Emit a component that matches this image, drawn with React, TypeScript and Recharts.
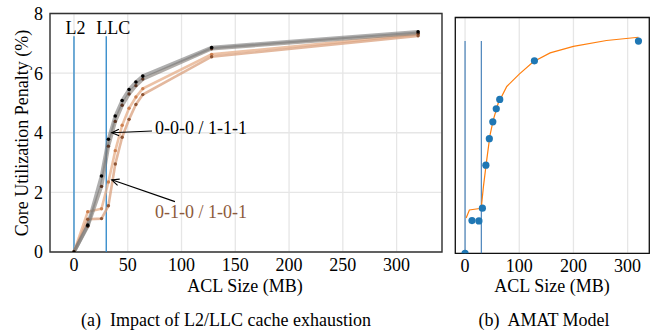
import React from 'react';
import { ComposedChart, Line, XAxis, YAxis, CartesianGrid, ReferenceLine, ReferenceArea } from 'recharts';

const FONT = '"Liberation Serif", "Times New Roman", serif';

// ACL sizes (MB) used by every measurement series
const aclSizes = [0, 12.8, 25.6, 32, 38.4, 44.8, 51.2, 57.6, 64, 128, 320];
// (a) core utilization penalty (%) for each core configuration
const pen000 = [0, 0.9, 2.55, 3.78, 4.56, 5.08, 5.45, 5.7, 5.9, 6.86, 7.39];
const pen111 = [0, 0.86, 2.2, 3.55, 4.38, 4.92, 5.3, 5.58, 5.8, 6.82, 7.34];
const pen010 = [0, 1.35, 1.45, 2.35, 3.4, 4.25, 4.82, 5.2, 5.48, 6.63, 7.3];
const pen101 = [0, 1.1, 1.12, 1.55, 2.95, 3.85, 4.45, 4.95, 5.28, 6.55, 7.25];
// (b) AMAT model: measured points and model curve
const amatMeasured = [0, 1.11, 1.1, 1.53, 2.99, 3.89, 4.46, 4.9, 5.22, 6.53, 7.2];
const fitSizes = [2, 8, 27, 30, 34, 40, 46, 52, 61, 77, 100, 126, 157, 200, 261, 320];
const fitValues = [1.2, 1.47, 1.52, 1.56, 2.28, 3.17, 4.0, 4.52, 5.08, 5.66, 6.08, 6.5, 6.8, 7.02, 7.22, 7.33];

const leftXTicks = [0, 50, 100, 150, 200, 250, 300];
const rightXTicks = [0, 100, 200, 300];
const yTicks = [0, 2, 4, 6, 8];
const leftXDomain = [-22.3, 342.2];
const rightXDomain = [-18, 340];
const yDomain = [0, 8];
const L2_MB = 0;
const LLC_MB = 30;
const cacheLineTopA = 7.24;
const cacheLineTopB = 7.2;

const leftRows = aclSizes.map((x, i) => ({ x, a: pen000[i], b: pen111[i], c: pen010[i], d: pen101[i] }));
const measRows = aclSizes.map((x, i) => ({ x, y: amatMeasured[i] }));
const fitRows = fitSizes.map((x, i) => ({ x, y: fitValues[i] }));

const CacheLine = (label: string, dx: number, color: string, w: number) => (p: any) => (
  <g>
    <line x1={p.x1} y1={p.y1} x2={p.x2} y2={p.y2} stroke={color} strokeWidth={w} />
    {label ? (
      <text x={p.x2 + dx} y={Math.min(p.y1, p.y2) - 2} textAnchor="middle" fontFamily={FONT} fontSize={18} fill="#000">
        {label}
      </text>
    ) : null}
  </g>
);

const Arrow = (label: string, color: string, tx: number, ty: number) => (p: any) => {
  const { x1, y1, x2, y2 } = p;
  const ang = Math.atan2(y2 - y1, x2 - x1);
  const L = 8;
  const s = 0.42;
  const ax = x2 - L * Math.cos(ang - s);
  const ay = y2 - L * Math.sin(ang - s);
  const bx = x2 - L * Math.cos(ang + s);
  const by = y2 - L * Math.sin(ang + s);
  return (
    <g>
      <line x1={x1} y1={y1} x2={x2} y2={y2} stroke="#000" strokeWidth={1.1} />
      <polyline points={`${ax},${ay} ${x2},${y2} ${bx},${by}`} fill="none" stroke="#000" strokeWidth={1.1} />
      <text x={x1 + tx} y={y1 + ty} fontFamily={FONT} fontSize={18} fill={color}>
        {label}
      </text>
    </g>
  );
};

const tickStyle = { fontSize: 18, fill: '#000', fontFamily: FONT };

const abs = (left: number, top: number): React.CSSProperties => ({ position: 'absolute', left, top });

const Txt = ({ x, y, children, rotate }: any) => (
  <div
    style={{
      position: 'absolute',
      left: x,
      top: y,
      transform: `translate(-50%, -50%)${rotate ? ' rotate(-90deg)' : ''}`,
      fontFamily: FONT,
      fontSize: 18,
      lineHeight: 1,
      whiteSpace: 'pre',
      color: '#000',
    }}
  >
    {children}
  </div>
);

export default function App() {
  return (
    <div style={{ position: 'absolute', left: 0, top: 0, width: 654, height: 330, background: '#fff', overflow: 'hidden' }}>
      <div style={abs(0, 0)}>
        <ComposedChart width={445} height={300} data={leftRows} margin={{ top: 13.5, right: 3, bottom: 18, left: 0 }}>
          <CartesianGrid stroke="#e6e6e6" strokeWidth={1.3} />
          <XAxis
            dataKey="x"
            type="number"
            domain={leftXDomain}
            allowDataOverflow
            ticks={leftXTicks}
            tick={tickStyle}
            tickLine={false}
            axisLine={false}
            tickSize={4}
            tickMargin={2}
            height={30}
          />
          <YAxis
            type="number"
            domain={yDomain}
            allowDataOverflow
            ticks={yTicks}
            tick={tickStyle}
            tickLine={false}
            axisLine={false}
            tickSize={6}
            tickMargin={1}
            width={50}
          />
          <ReferenceLine
            segment={[{ x: L2_MB, y: 0 }, { x: L2_MB, y: cacheLineTopA }]}
            shape={CacheLine('L2', 1.5, '#2a86c8', 1.3)}
          />
          <ReferenceLine
            segment={[{ x: LLC_MB, y: 0 }, { x: LLC_MB, y: cacheLineTopA }]}
            shape={CacheLine('LLC', 7, '#2a86c8', 1.3)}
          />
          <Line
            dataKey="c"
            type="linear"
            stroke="#e6ad88"
            strokeOpacity={0.75}
            strokeWidth={2.6}
            dot={{ r: 1.7, fill: '#cd8050', stroke: 'none' }}
            isAnimationActive={false}
          />
          <Line
            dataKey="d"
            type="linear"
            stroke="#d9a07e"
            strokeOpacity={0.75}
            strokeWidth={2.6}
            dot={{ r: 1.7, fill: '#8e5535', stroke: 'none' }}
            isAnimationActive={false}
          />
          <Line
            dataKey="b"
            type="linear"
            stroke="#7d7670"
            strokeOpacity={0.6}
            strokeWidth={3.6}
            dot={{ r: 1.7, fill: '#5a3422', stroke: 'none' }}
            isAnimationActive={false}
          />
          <Line
            dataKey="a"
            type="linear"
            stroke="#7a7a7a"
            strokeOpacity={0.6}
            strokeWidth={3.6}
            dot={{ r: 1.8, fill: '#000', stroke: 'none' }}
            isAnimationActive={false}
          />
          <ReferenceLine
            segment={[{ x: 72.5, y: 4.06 }, { x: 35.1, y: 4.0 }]}
            shape={Arrow('0-0-0 / 1-1-1', '#000', 3, 3)}
          />
          <ReferenceLine
            segment={[{ x: 93.9, y: 1.69 }, { x: 35.1, y: 2.42 }]}
            shape={Arrow('0-1-0 / 1-0-1', '#8c5a3c', -20, 16)}
          />
          <ReferenceArea
            x1={leftXDomain[0]}
            x2={leftXDomain[1]}
            y1={yDomain[0]}
            y2={yDomain[1]}
            fill="none"
            stroke="#333"
            strokeWidth={1.4}
            ifOverflow="visible"
          />
        </ComposedChart>
      </div>

      <div style={abs(440, 0)}>
        <ComposedChart width={214} height={300} margin={{ top: 17.5, right: 4.7, bottom: 16.7, left: 15.3 }}>
          <CartesianGrid stroke="#e6e6e6" strokeWidth={1.3} />
          <XAxis
            dataKey="x"
            type="number"
            domain={rightXDomain}
            allowDataOverflow
            ticks={rightXTicks}
            tick={tickStyle}
            tickLine={false}
            axisLine={false}
            tickSize={4}
            tickMargin={2}
            height={30}
          />
          <YAxis
            dataKey="y"
            type="number"
            domain={yDomain}
            allowDataOverflow
            ticks={yTicks}
            tick={false}
            tickLine={false}
            axisLine={false}
            width={0}
          />
          <ReferenceLine
            segment={[{ x: L2_MB, y: 0 }, { x: L2_MB, y: cacheLineTopB }]}
            shape={CacheLine('', 0, '#3a78b5', 1.1)}
          />
          <ReferenceLine
            segment={[{ x: LLC_MB, y: 0 }, { x: LLC_MB, y: cacheLineTopB }]}
            shape={CacheLine('', 0, '#3a78b5', 1.1)}
          />
          <Line
            data={fitRows}
            dataKey="y"
            type="linear"
            stroke="#ff7f0e"
            strokeWidth={1.2}
            dot={false}
            isAnimationActive={false}
          />
          <Line
            data={measRows}
            dataKey="y"
            type="linear"
            stroke="none"
            strokeWidth={0}
            dot={{ r: 3.6, fill: '#1f77b4', stroke: 'none' }}
            isAnimationActive={false}
          />
          <ReferenceArea
            x1={rightXDomain[0]}
            x2={rightXDomain[1]}
            y1={yDomain[0]}
            y2={yDomain[1]}
            fill="none"
            stroke="#111"
            strokeWidth={1.3}
            ifOverflow="visible"
          />
        </ComposedChart>
      </div>

      <Txt x={21.5} y={132.5} rotate>Core Utilization Penalty (%)</Txt>
      <Txt x={245} y={286}>ACL Size (MB)</Txt>
      <Txt x={552} y={286}>ACL Size (MB)</Txt>
      <Txt x={226} y={320}>{'(a)  Impact of L2/LLC cache exhaustion'}</Txt>
      <Txt x={544} y={320}>{'(b)  AMAT Model'}</Txt>
    </div>
  );
}
